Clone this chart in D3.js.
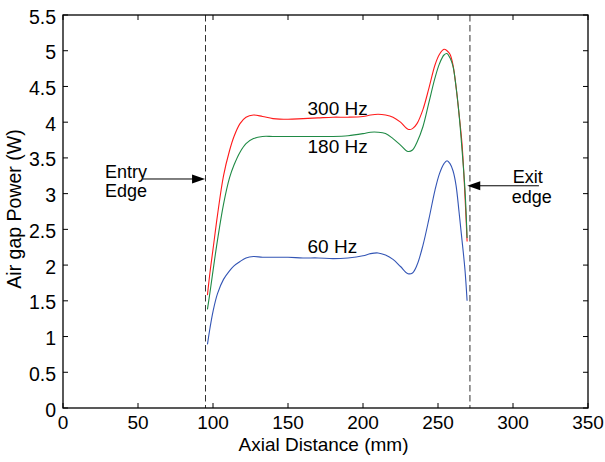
<!DOCTYPE html>
<html>
<head>
<meta charset="utf-8">
<script src="https://cdn.jsdelivr.net/npm/d3@7"></script>
<style>
body{margin:0;background:#fff;}
svg text{font-family:"Liberation Sans",Arial,sans-serif;fill:#000;}
</style>
</head>
<body>
<svg id="c" width="605" height="462"></svg>
<script>
const xs =    [96.3,98,100,103,107,111,114,118,122,127,133,140,150,160,170,180,190,200,205,210,215,220,225,230,233,236,240,244,248,251,254,256,258,260,262,264,266,268,269.4];
const hz300 = [1.58,1.90,2.22,2.70,3.25,3.60,3.80,3.98,4.07,4.10,4.08,4.05,4.04,4.05,4.06,4.07,4.07,4.08,4.10,4.11,4.10,4.07,4.00,3.90,3.91,3.98,4.18,4.48,4.80,4.95,5.02,5.00,4.95,4.80,4.50,4.12,3.70,2.96,2.33];
const hz180 = [1.38,1.62,1.92,2.35,2.85,3.22,3.40,3.58,3.70,3.77,3.80,3.80,3.80,3.80,3.80,3.80,3.81,3.84,3.86,3.86,3.84,3.77,3.68,3.59,3.61,3.72,3.94,4.28,4.62,4.82,4.94,4.96,4.90,4.78,4.50,4.12,3.62,3.05,2.38];
const hz60 =  [0.89,1.12,1.35,1.60,1.80,1.92,1.99,2.05,2.10,2.12,2.11,2.11,2.11,2.10,2.10,2.09,2.10,2.13,2.16,2.17,2.14,2.08,1.98,1.88,1.89,2.00,2.28,2.65,3.05,3.28,3.42,3.46,3.42,3.32,3.12,2.75,2.35,1.93,1.50];
const xTicks = [0,50,100,150,200,250,300,350];
const yTicks = [0,0.5,1,1.5,2,2.5,3,3.5,4,4.5,5,5.5];
const edges = [95,271.3];
const seriesNames = ["300 Hz","180 Hz","60 Hz"];
const seriesColors = ["#ff1a1a","#1f8a45","#3355b5"];

const svg = d3.select("#c");
const L=63,R=588,T=15,B=408;
const x = d3.scaleLinear().domain([0,350]).range([L,R]);
const y = d3.scaleLinear().domain([0,5.5]).range([B,T]);

// edges dashed
svg.selectAll("line.edge").data(edges).enter().append("line")
  .attr("x1",d=>x(d)).attr("x2",d=>x(d)).attr("y1",T).attr("y2",B)
  .attr("stroke","#333").attr("stroke-width",1).attr("stroke-dasharray","6.5,3.5");

// curves
const line = d3.line().x((d,i)=>x(xs[i])).y(d=>y(d)).curve(d3.curveCatmullRom.alpha(0.5));
[hz300,hz180,hz60].forEach((s,k)=>{
  svg.append("path").attr("d",line(s)).attr("fill","none")
    .attr("stroke",seriesColors[k]).attr("stroke-width",1.1);
});

// axes box
const g = svg.append("g");
g.append("rect").attr("x",L).attr("y",T).attr("width",R-L).attr("height",B-T)
  .attr("fill","none").attr("stroke","#000").attr("stroke-width",1.3);
const tl=5;
xTicks.forEach(t=>{
  g.append("line").attr("x1",x(t)).attr("x2",x(t)).attr("y1",B).attr("y2",B-tl).attr("stroke","#000");
  g.append("line").attr("x1",x(t)).attr("x2",x(t)).attr("y1",T).attr("y2",T+tl).attr("stroke","#000");
  g.append("text").attr("x",x(t)).attr("y",429).attr("text-anchor","middle").attr("font-size",19).text(t);
});
yTicks.forEach(t=>{
  g.append("line").attr("x1",L).attr("x2",L+tl).attr("y1",y(t)).attr("y2",y(t)).attr("stroke","#000");
  g.append("line").attr("x1",R).attr("x2",R-tl).attr("y1",y(t)).attr("y2",y(t)).attr("stroke","#000");
  g.append("text").attr("x",56).attr("y",y(t)+8.5).attr("text-anchor","end").attr("font-size",19.5).text(t);
});
svg.append("text").attr("x",(L+R)/2-2).attr("y",451).attr("text-anchor","middle").attr("font-size",19).text("Axial Distance (mm)");
svg.append("text").attr("transform",`translate(21,209) rotate(-90)`).attr("text-anchor","middle").attr("font-size",19.5).text("Air gap Power (W)");

// series labels
const labelPos = [[163,4.1],[163,3.57],[163,2.17]];
seriesNames.forEach((n,k)=>{
  svg.append("text").attr("x",x(labelPos[k][0])).attr("y",y(labelPos[k][1])).attr("font-size",19).text(n);
});

// annotations
function arrow(x1,x2,yy){
  const px1=x(x1),px2=x(x2),py=y(yy);
  svg.append("line").attr("x1",px1).attr("x2",px2-(px2>px1?6:-6)).attr("y1",py).attr("y2",py).attr("stroke","#000").attr("stroke-width",1);
  const dir = px2>px1?1:-1;
  svg.append("path").attr("d",`M${px2},${py}L${px2-dir*13},${py-4.5}L${px2-dir*13},${py+4.5}Z`).attr("fill","#000");
}
arrow(53.3,94.7,3.205);
arrow(317.3,269.5,3.11);
svg.append("text").attr("x",x(28)).attr("y",y(3.223)).attr("font-size",18).text("Entry");
svg.append("text").attr("x",x(28)).attr("y",y(2.957)).attr("font-size",18).text("Edge");
svg.append("text").attr("x",x(299.8)).attr("y",y(3.153)).attr("font-size",18).text("Exit");
svg.append("text").attr("x",x(299.1)).attr("y",y(2.865)).attr("font-size",18).text("edge");
</script>
</body>
</html>
